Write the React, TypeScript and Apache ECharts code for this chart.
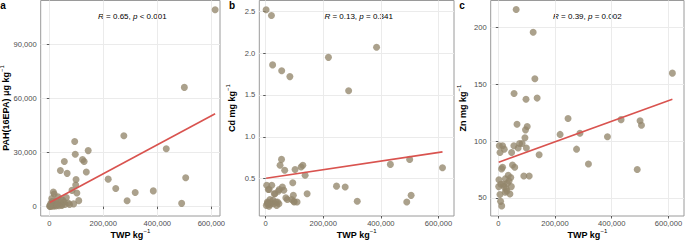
import React, { useEffect, useRef } from "react";
import * as echarts from "echarts";

// Shared TWP values (kg^-1) for each sample
const twp = [
  614000, 500000, 505000, 490000, 433000, 385000, 318000, 288000, 276000, 246000,
  218000, 144000, 137000, 129000, 123000, 109000, 102000, 99000, 96000, 94000,
  97700, 90000, 84000, 70000, 66000, 63000, 58000, 55600, 55000, 50000,
  47000, 44000, 41000, 46000, 38000, 35000, 32000, 28000, 25000, 24000,
  21000, 20000, 18000, 15000, 15000, 12000, 11600, 8000, 6000, 5800,
  3500, 2300, 1400, 9000, 30000, 75000,
];
// PAH(16EPA) µg kg^-1
const pah = [
  109000, 66000, 16000, 1800, 32000, 8700, 7800, 3200, 39200, 10000,
  15200, 31000, 19200, 25000, 26000, 3300, 7500, 15000, 29000, 36000,
  12000, 1500, 9000, 2000, 18400, 5000, 1200, 25000, 2500, 3500,
  1000, 4000, 20000, 600, 2200, 500, 5500, 1500, 3000, 300,
  2000, 800, 7000, 8000, 200, 1200, 3000, 500, 2000, 200,
  800, 100, 400, 4500, 900, 1200,
];
// Cd mg kg^-1
const cd = [
  0.63, 0.73, 0.3, 0.22, 0.67, 2.07, 0.23, 1.55, 0.4, 0.41,
  1.95, 0.32, 0.54, 0.66, 0.64, 0.22, 0.61, 0.22, 0.3, 0.45,
  0.23, 0.25, 1.72, 0.27, 0.6, 0.36, 0.4, 1.79, 0.73, 0.66,
  0.37, 0.35, 0.22, 0.2, 0.18, 0.22, 0.32, 0.2, 0.24, 1.86,
  0.42, 2.45, 0.21, 0.25, 0.19, 0.37, 0.17, 0.21, 0.22, 0.2,
  0.42, 0.18, 2.52, 0.37, 0.32, 0.25,
];
// Zn mg kg^-1
const zn = [
  160, 118, 114, 75, 119, 104, 80, 107, 93, 120,
  106, 88, 138, 155, 196, 69.4, 113, 94, 110, 103,
  137, 69.4, 98, 94, 115, 216, 77, 142, 96, 79,
  90, 68, 53.5, 60, 65, 70, 63, 58, 67, 55,
  93, 60, 62, 96, 77, 43, 75.6, 47, 90, 53,
  96, 66, 60, 62, 56, 98,
];

// Fitted lines (start/end over the TWP range)
const fitX = [1400, 614000];
const fitPah = [2300, 51400];
const fitCd = [0.505, 0.82];
const fitZn = [81.5, 137];

const xTicks = [0, 200000, 400000, 600000];
const pahTicks = [0, 30000, 60000, 90000];
const cdTicks = [0.5, 1.0, 1.5, 2.0, 2.5];
const znTicks = [50, 100, 150, 200];

const statsA = ["0.65", "< 0.001"];
const statsB = ["0.13", "= 0.341"];
const statsC = ["0.39", "= 0.002"];

const FONT = "Liberation Sans, Arial, Helvetica, sans-serif";

const grids = [
  { left: 40.7, top: 0.5, width: 179.3, height: 215.5 },
  { left: 259.3, top: 0.5, width: 194.7, height: 215.5 },
  { left: 490.7, top: 0.5, width: 193.3, height: 215.5 },
];

const xRanges = [
  [-31900, 632000],
  [-22200, 654000],
  [-26800, 655000],
];
const yRanges = [
  [-5200, 114100],
  [0.053, 2.63],
  [34.1, 224],
];

const fmtThousands = (v: number) =>
  Math.round(v).toString().replace(/\B(?=(\d{3})+(?!\d))/g, ",");

function App() {
  const ref = useRef<HTMLDivElement>(null);
  useEffect(() => {
    if (!ref.current) return;
    document.body.style.margin = "0";
    const chart = echarts.init(ref.current, undefined, { renderer: "svg" });
    const yTickSets = [pahTicks, cdTicks, znTicks];
    const yFormatters = [
      (v: number) => fmtThousands(v),
      (v: number) => v.toFixed(1),
      (v: number) => String(Math.round(v)),
    ];
    const ySets = [pah, cd, zn];
    const fits = [fitPah, fitCd, fitZn];
    const stats = [statsA, statsB, statsC];
    const yTitles = ["PAH(16EPA) μg kg", "Cd mg kg", "Zn mg kg"];
    const letters = ["a", "b", "c"];
    const letterX = [3, 232, 462];

    const axisCommon = {
      axisLine: { show: false },
      splitLine: { show: true, lineStyle: { color: "#EBEBEB", width: 1 } },
      axisTick: { show: true, length: 2.5, lineStyle: { color: "#333333", width: 0.8 } },
    };

    const xAxis = grids.map((_, i) => ({
      type: "value",
      gridIndex: i,
      min: xRanges[i][0],
      max: xRanges[i][1],
      ...axisCommon,
      axisTick: { ...axisCommon.axisTick, customValues: xTicks },
      axisLabel: {
        customValues: xTicks,
        formatter: (v: number) => fmtThousands(v),
        color: "#4D4D4D",
        fontSize: 7.6,
        fontFamily: FONT,
        margin: 3,
      },
    }));
    const yAxis = grids.map((_, i) => ({
      type: "value",
      gridIndex: i,
      min: yRanges[i][0],
      max: yRanges[i][1],
      ...axisCommon,
      axisTick: { ...axisCommon.axisTick, customValues: yTickSets[i] },
      axisLabel: {
        customValues: yTickSets[i],
        formatter: yFormatters[i],
        color: "#4D4D4D",
        fontSize: 7.6,
        fontFamily: FONT,
        margin: 4,
      },
    }));

    const series: any[] = [];
    grids.forEach((_, i) => {
      series.push({
        type: "scatter",
        xAxisIndex: i,
        yAxisIndex: i,
        data: twp.map((x, k) => [x, ySets[i][k]]),
        symbolSize: 7,
        itemStyle: { color: "#93866B", opacity: 0.78 },
        z: 2,
      });
      series.push({
        type: "line",
        xAxisIndex: i,
        yAxisIndex: i,
        data: fitX.map((x, k) => [x, fits[i][k]]),
        showSymbol: false,
        lineStyle: { color: "#D9534F", width: 1.6 },
        z: 3,
      });
    });

    const supRich = {
      t: { fontSize: 9, fontWeight: "bold", fontFamily: FONT, color: "#000", lineHeight: 14 },
      s: { fontSize: 6, fontFamily: FONT, color: "#000", verticalAlign: "top" },
    };
    const statRich = {
      i: { fontSize: 8, fontStyle: "italic", fontFamily: FONT, color: "#000" },
      n: { fontSize: 8, fontFamily: FONT, color: "#000" },
    };

    const graphic: any[] = [];
    grids.forEach((g, i) => {
      const cx = g.left + g.width / 2;
      graphic.push({
        type: "text",
        x: letterX[i],
        y: 5,
        style: {
          text: letters[i],
          font: `bold 10px ${FONT}`,
          fill: "#000",
          align: "center",
          verticalAlign: "middle",
        },
      });
      graphic.push({
        type: "text",
        x: cx + [2, 2, 0][i],
        y: 16,
        style: {
          text: `{i|R}{n| = ${stats[i][0]}, }{i|p}{n| ${stats[i][1]}}`,
          rich: statRich,
          align: "center",
          verticalAlign: "middle",
        },
      });
      graphic.push({
        type: "text",
        x: cx,
        y: 235,
        style: {
          text: "{t|TWP kg}{s|−1}",
          rich: supRich,
          align: "center",
          verticalAlign: "middle",
        },
      });
      graphic.push({
        type: "text",
        x: [6, 232, 463][i],
        y: 108,
        rotation: Math.PI / 2,
        style: {
          text: `{t|${yTitles[i]}}{s|−1}`,
          rich: supRich,
          align: "center",
          verticalAlign: "middle",
        },
      });
    });

    chart.setOption({
      animation: false,
      backgroundColor: "#ffffff",
      grid: grids.map((g) => ({
        ...g,
        show: true,
        borderColor: "#9A9A9A",
        borderWidth: 1,
        backgroundColor: "transparent",
        containLabel: false,
        outerBoundsMode: "none",
      })),
      xAxis,
      yAxis,
      series,
      graphic,
      tooltip: { show: false },
    });
    return () => chart.dispose();
  }, []);
  return <div ref={ref} style={{ width: 685, height: 242 }} />;
}

export default App;
